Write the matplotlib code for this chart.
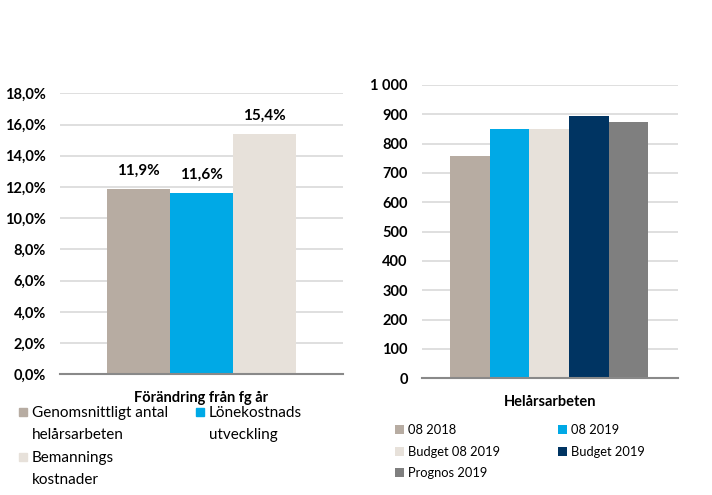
import matplotlib
matplotlib.use("Agg")
import matplotlib.pyplot as plt
from matplotlib.patches import Rectangle
from matplotlib.ticker import FuncFormatter, MultipleLocator

plt.rcParams['font.family'] = ['Lato', 'DejaVu Sans']

# === Data ===
left_labels = ["Genomsnittligt antal\nhelårsarbeten", "Lönekostnads\nutveckling", "Bemannings\nkostnader"]
left_values = [11.9, 11.6, 15.4]
left_colors = ["#b7aca2", "#00a9e6", "#e7e1da"]

right_labels = ["08 2018", "08 2019", "Budget 08 2019", "Budget 2019", "Prognos 2019"]
right_values = [758, 850, 849, 895, 874]
right_colors = ["#b7aca2", "#00a9e6", "#e7e1da", "#003462", "#7f7f7f"]

grid_color = "#d9d9d9"
axis_color = "#898989"

W, H = 712, 495
fig = plt.figure(figsize=(W / 100, H / 100), dpi=100)

def style_axes(ax):
    for s in ["top", "right", "left"]:
        ax.spines[s].set_visible(False)
    ax.spines["bottom"].set_color(axis_color)
    ax.spines["bottom"].set_linewidth(1.5)
    ax.yaxis.grid(True, color=grid_color, linewidth=1.2)
    ax.set_axisbelow(True)
    ax.tick_params(axis="y", length=0, pad=10, labelsize=10.5)
    ax.tick_params(axis="x", length=0)
    ax.set_xticks([])
    for t in ax.get_yticklabels():
        t.set_fontweight("bold")

# === Left chart ===
ax1 = fig.add_axes([60 / W, 1 - 374.3 / H, 283 / W, 281 / H])
bars1 = []
for i, (lab, v, c) in enumerate(zip(left_labels, left_values, left_colors)):
    bars1.append(ax1.bar(i, v, width=1.0, color=c, label=lab))
ax1.set_xlim(-1.25, 3.25)
ax1.set_ylim(0, 18)
ax1.yaxis.set_major_locator(MultipleLocator(2))
ax1.yaxis.set_major_formatter(FuncFormatter(lambda v, p: f"{v:.1f}%".replace(".", ",")))
style_axes(ax1)
for b, v in zip(bars1, left_values):
    ax1.bar_label(b, labels=[f"{v:.1f}%".replace(".", ",")], padding=8,
                  fontsize=11, fontweight="bold")
ax1.set_xlabel("Förändring från fg år", fontsize=10.5, fontweight="bold", labelpad=12)

# left legend, drawn by hand so the square sits on the first text line
leg_pos = [(19, 412), (196, 412), (19, 457)]  # (marker x, first-line centre y) in px
for (x, y), lab, c in zip(leg_pos, left_labels, left_colors):
    fig.add_artist(Rectangle((x / W, 1 - (y + 4) / H), 8 / W, 8 / H,
                             transform=fig.transFigure, color=c))
    fig.text((x + 13) / W, 1 - (y - 6) / H, lab, fontsize=11, va="top",
             ha="left", linespacing=1.7)

# === Right chart ===
ax2 = fig.add_axes([421.7 / W, 1 - 378.3 / H, 256 / W, 293.3 / H])
bars2 = []
for i, (lab, v, c) in enumerate(zip(right_labels, right_values, right_colors)):
    bars2.append(ax2.bar(i, v, width=1.0, color=c, label=lab))
ax2.set_xlim(-1.22, 5.24)
ax2.set_ylim(0, 1000)
ax2.yaxis.set_major_locator(MultipleLocator(100))
ax2.yaxis.set_major_formatter(FuncFormatter(lambda v, p: f"{int(v):,}".replace(",", " ")))
style_axes(ax2)
ax2.set_xlabel("Helårsarbeten", fontsize=10.5, fontweight="bold", labelpad=12)

order2 = [0, 2, 4, 1, 3]
ax2.legend([bars2[i] for i in order2], [right_labels[i] for i in order2],
           loc="upper left", bbox_to_anchor=(395 / W, 1 - 424 / H),
           bbox_transform=fig.transFigure, ncol=2, frameon=False,
           fontsize=9.3, handlelength=0.7, handleheight=0.7, handletextpad=0.3,
           columnspacing=4.5, borderaxespad=0, borderpad=0, labelspacing=0.75)

plt.savefig("out.png", dpi=100)
